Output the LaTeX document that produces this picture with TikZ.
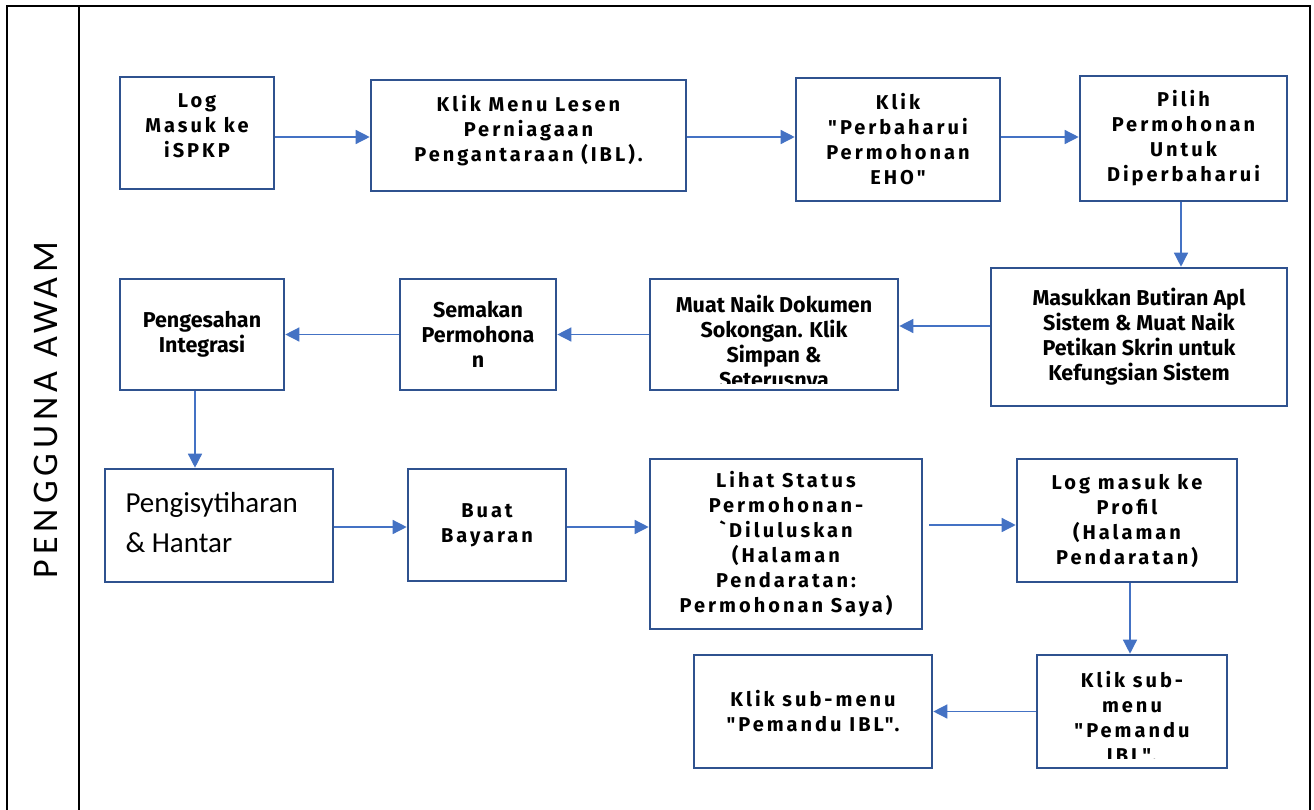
\documentclass[tikz,border=0pt]{standalone}
\usepackage{fontspec}
\setmainfont{Carlito}
\newfontfamily\boxfont{Fira Sans}
\newfontfamily\widefont[LetterSpace=15]{Fira Sans}
\newfontfamily\lanefont[LetterSpace=14]{Carlito}
\usetikzlibrary{arrows.meta}

\definecolor{boxblue}{RGB}{47,82,143}
\definecolor{flowblue}{RGB}{68,114,196}

\tikzset{
  stepbox/.style={draw=boxblue, line width=2.6pt, align=center, inner sep=0pt,
    font=\boxfont\bfseries\fontsize{21.5}{25}\selectfont},
  spaced/.style={font=\widefont\bfseries\fontsize{20}{25}\selectfont},
  plainbox/.style={font=\fontsize{29}{40}\selectfont},
  flow/.style={draw=flowblue, line width=1.4pt, -{Triangle[length=14pt,width=14pt]}},
}

\begin{document}
\begin{tikzpicture}[x=1pt,y=-1pt]
\useasboundingbox (0,0) rectangle (1314,809);

% lane frame
\draw[line width=2.8pt] (7,815) -- (7,6) -- (1310,6) -- (1310,815);
\draw[line width=2.8pt] (79,6) -- (79,815);
\node[rotate=90, font=\lanefont\fontsize{36}{40}\selectfont] (lane) at (46,410) {PENGGUNA AWAM};

% row 1
\node[stepbox, spaced, minimum width=154, minimum height=112, text depth=14pt] (log) at (197,133) {Log\\Masuk ke\\iSPKP};
\node[stepbox, spaced, minimum width=315, minimum height=111, text depth=14pt] (menu) at (528.5,135.5) {Klik Menu Lesen\\Perniagaan\\Pengantaraan (IBL).};
\node[stepbox, spaced, minimum width=204, minimum height=123] (renew) at (898,139.5) {Klik\\"Perbaharui\\Permohonan\\EHO"};
\node[stepbox, spaced, minimum width=207, minimum height=125] (pick) at (1183.5,138.5) {Pilih\\Permohonan\\Untuk\\Diperbaharui};

% row 2
\node[stepbox, minimum width=296, minimum height=138] (detail) at (1139,337) {Masukkan Butiran Apl\\Sistem \& Muat Naik\\Petikan Skrin untuk\\Kefungsian Sistem};
\node[stepbox, minimum width=248, minimum height=111] (upload) at (774,334.5) {};
\begin{scope}
  \clip (650,279) rectangle (898,383);
  \node[stepbox, draw=none, anchor=north] (uploadtxt) at (774,294) {Muat Naik Dokumen\\Sokongan. Klik\\Simpan \&\\Seterusnya};
\end{scope}
\node[stepbox, minimum width=156, minimum height=111] (check) at (478,334.5) {Semakan\\Permohona\\n};
\node[stepbox, minimum width=164, minimum height=111] (verify) at (202,334.5) {Pengesahan\\Integrasi};

% row 3
\node[stepbox, minimum width=228, minimum height=113] (declare) at (219,525.5) {};
\node[plainbox, anchor=north west, align=left] (declaretxt) at (122,489) {Pengisytiharan\\\& Hantar};
\node[stepbox, spaced, minimum width=158, minimum height=112] (pay) at (487,525) {Buat\\Bayaran};
\node[stepbox, spaced, minimum width=272, minimum height=170] (status) at (786,544) {Lihat Status\\Permohonan-\\`Diluluskan\\(Halaman\\Pendaratan:\\Permohonan Saya)};
\node[stepbox, spaced, minimum width=220, minimum height=123] (profile) at (1127,520.5) {Log masuk ke\\Profil\\(Halaman\\Pendaratan)};

% row 4
\node[stepbox, minimum width=190, minimum height=113] (submenu) at (1132,711.5) {};
\begin{scope}
  \clip (1037,655) rectangle (1227,758);
  \node[stepbox, spaced, draw=none, anchor=north] (submenutxt) at (1132,670) {Klik sub-\\menu\\"Pemandu\\IBL".};
\end{scope}
\node[stepbox, spaced, minimum width=238, minimum height=113] (guide) at (813,711.5) {Klik sub-menu\\"Pemandu IBL".};

% connectors
\draw[flow] ([yshift=-4pt]log.east) -- ([yshift=-4pt]log.east -| menu.west);
\draw[flow] ([yshift=-1.5pt]menu.east) -- ([yshift=-1.5pt]menu.east -| renew.west);
\draw[flow] ([yshift=2.5pt]renew.east) -- ([yshift=2.5pt]renew.east -| pick.west);
\draw[flow] ([xshift=-2.5pt]pick.south) -- ([xshift=-2.5pt]pick.south |- detail.north);
\draw[flow] ([yshift=11pt]detail.west) -- ([yshift=11pt]detail.west -| upload.east);
\draw[flow] (upload.west) -- (upload.west -| check.east);
\draw[flow] (check.west) -- (check.west -| verify.east);
\draw[flow] ([xshift=-7pt]verify.south) -- ([xshift=-7pt]verify.south |- declare.north);
\draw[flow] ([yshift=-1.5pt]declare.east) -- ([yshift=-1.5pt]declare.east -| pay.west);
\draw[flow] ([yshift=-2pt]pay.east) -- ([yshift=-2pt]pay.east -| status.west);
\draw[flow, shorten <=6pt] ([yshift=-4.5pt]profile.west -| status.east) -- ([yshift=-4.5pt]profile.west);
\draw[flow] ([xshift=3pt]profile.south) -- ([xshift=3pt]profile.south |- submenu.north);
\draw[flow] (submenu.west) -- (submenu.west -| guide.east);
\end{tikzpicture}
\end{document}
